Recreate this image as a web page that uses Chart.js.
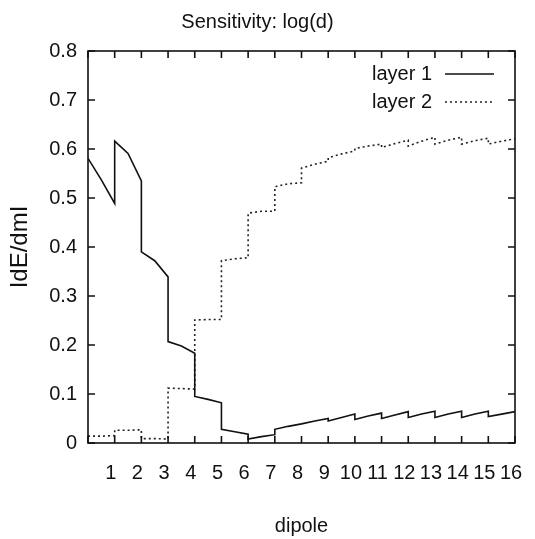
<!DOCTYPE html>
<html>
<head>
<meta charset="utf-8">
<script src="https://cdn.jsdelivr.net/npm/chart.js@4.4.1/dist/chart.umd.min.js"></script>
<style>
  html, body { margin: 0; padding: 0; background: #fff; }
</style>
</head>
<body>
<canvas id="myChart" width="535" height="539"></canvas>
<script>
// one segment per dipole interval [i, i+1]: value at start, middle and end
const dipoleStart = [0, 1, 2, 3, 4, 5, 6, 7, 8, 9, 10, 11, 12, 13, 14, 15];

const layer1Start = [0.581, 0.616, 0.390, 0.207, 0.095, 0.028, 0.008, 0.028, 0.039, 0.045, 0.048, 0.050, 0.052, 0.052, 0.052, 0.054];
const layer1Mid   = [0.537, 0.591, 0.372, 0.198, 0.089, 0.023, 0.013, 0.034, 0.045, 0.052, 0.055, 0.057, 0.059, 0.059, 0.059, 0.059];
const layer1End   = [0.489, 0.535, 0.339, 0.183, 0.082, 0.018, 0.017, 0.039, 0.050, 0.059, 0.061, 0.064, 0.065, 0.065, 0.065, 0.064];

const layer2Start = [0.014, 0.026, 0.009, 0.112, 0.251, 0.372, 0.469, 0.523, 0.561, 0.582, 0.601, 0.603, 0.606, 0.610, 0.610, 0.610];
const layer2Mid   = [0.014, 0.026, 0.009, 0.111, 0.252, 0.376, 0.473, 0.529, 0.569, 0.590, 0.606, 0.611, 0.616, 0.618, 0.617, 0.616];
const layer2End   = [0.015, 0.027, 0.008, 0.110, 0.252, 0.378, 0.473, 0.531, 0.575, 0.596, 0.610, 0.618, 0.624, 0.624, 0.622, 0.621];

const seriesNames = ['layer 1', 'layer 2'];

const FONT = "'Liberation Sans', Arial, sans-serif";

function buildPoints(starts, mids, ends) {
  const pts = [];
  dipoleStart.forEach((d, i) => {
    pts.push({ x: d, y: starts[i] });
    pts.push({ x: d + 0.5, y: mids[i] });
    pts.push({ x: d + 1, y: ends[i] });
  });
  return pts;
}

// frame with inward ticks on all four sides + gnuplot style key
const gnuplotFrame = {
  id: 'gnuplotFrame',
  afterDraw(chart) {
    const { ctx, chartArea: a, scales: { x, y } } = chart;
    ctx.save();
    ctx.strokeStyle = '#111';
    ctx.lineWidth = 1.6;
    ctx.strokeRect(a.left, a.top, a.right - a.left, a.bottom - a.top);

    ctx.beginPath();
    x.ticks.forEach(t => {
      const px = x.getPixelForValue(t.value);
      ctx.moveTo(px, a.bottom); ctx.lineTo(px, a.bottom - 7);
      ctx.moveTo(px, a.top); ctx.lineTo(px, a.top + 7);
    });
    y.ticks.forEach(t => {
      const py = y.getPixelForValue(t.value);
      ctx.moveTo(a.left, py); ctx.lineTo(a.left + 7, py);
      ctx.moveTo(a.right, py); ctx.lineTo(a.right - 7, py);
    });
    ctx.stroke();

    // key
    ctx.font = '20px ' + FONT;
    ctx.fillStyle = '#111';
    ctx.textAlign = 'right';
    ctx.textBaseline = 'middle';
    chart.data.datasets.forEach((ds, i) => {
      const ky = a.top + 23 + i * 28;
      ctx.fillText(ds.label, a.right - 83, ky);
      ctx.beginPath();
      ctx.setLineDash(ds.borderDash || []);
      ctx.lineWidth = ds.borderWidth;
      ctx.strokeStyle = ds.borderColor;
      ctx.moveTo(a.right - 70, ky);
      ctx.lineTo(a.right - 21, ky);
      ctx.stroke();
    });
    ctx.restore();
  }
};

const ctx = document.getElementById('myChart').getContext('2d');
const myChart = new Chart(ctx, {
  type: 'line',
  data: {
    datasets: [{
      label: seriesNames[0],
      data: buildPoints(layer1Start, layer1Mid, layer1End),
      borderColor: '#111',
      borderWidth: 1.6,
      pointRadius: 0,
      tension: 0
    }, {
      label: seriesNames[1],
      data: buildPoints(layer2Start, layer2Mid, layer2End),
      borderColor: '#222',
      borderWidth: 1.6,
      borderDash: [2, 3],
      pointRadius: 0,
      tension: 0
    }]
  },
  options: {
    responsive: false,
    animation: false,
    devicePixelRatio: 1,
    layout: { padding: { left: 0, right: 20, top: 0, bottom: 0 } },
    plugins: {
      legend: { display: false },
      tooltip: { enabled: false },
      title: {
        display: true,
        text: 'Sensitivity: log(d)',
        color: '#111',
        font: { family: FONT, size: 20, weight: 'normal' },
        padding: { top: 10, bottom: 17 }
      }
    },
    scales: {
      x: {
        type: 'linear',
        min: 0,
        max: 16,
        afterFit(scale) {
          scale.height = 96;
          scale.paddingLeft = 0;
          scale.paddingRight = 0;
        },
        grid: { display: false, drawTicks: false },
        border: { display: false },
        ticks: {
          stepSize: 1,
          autoSkip: false,
          maxRotation: 0,
          minRotation: 0,
          padding: 18,
          labelOffset: -4,
          color: '#111',
          font: { family: FONT, size: 20 },
          callback: v => (v === 0 ? '' : String(v))
        },
        title: {
          display: true,
          text: 'dipole',
          color: '#111',
          font: { family: FONT, size: 20 },
          padding: { top: 0, bottom: 1 }
        }
      },
      y: {
        min: 0,
        max: 0.8,
        afterFit(scale) { scale.width = 88; },
        grid: { display: false, drawTicks: false },
        border: { display: false },
        ticks: {
          stepSize: 0.1,
          padding: 11,
          color: '#111',
          font: { family: FONT, size: 20 },
          callback: v => String(Math.round(v * 10) / 10)
        },
        title: {
          display: true,
          text: 'IdE/dmI',
          color: '#111',
          font: { family: FONT, size: 24 },
          padding: { top: 6, bottom: 0 }
        }
      }
    }
  },
  plugins: [gnuplotFrame]
});
</script>
</body>
</html>
